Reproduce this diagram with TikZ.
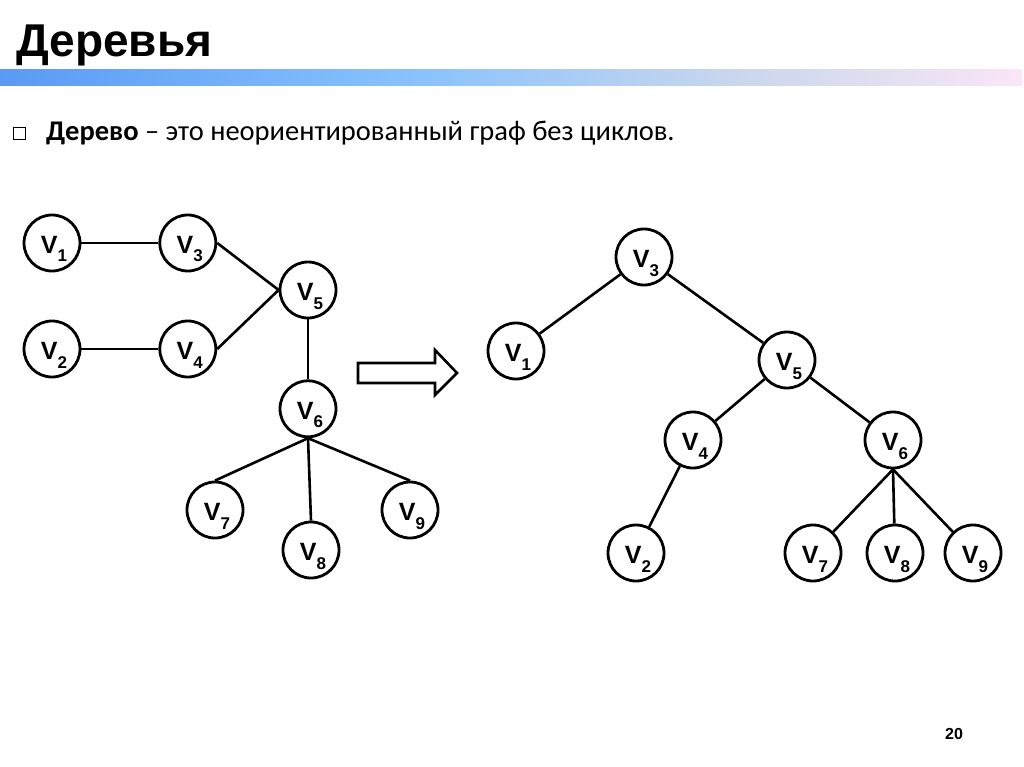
\documentclass[tikz,border=0pt]{standalone}
\usepackage{fontspec}
\setmainfont{Liberation Sans}
\newfontfamily\bodyfont{Carlito}
\usetikzlibrary{positioning}
\definecolor{BarLeft}{HTML}{5A9AF5}
\definecolor{BarMid}{HTML}{88C2FD}
\definecolor{BarGrey}{HTML}{C9D7EC}
\definecolor{BarRight}{HTML}{FAE6F7}
\definecolor{Ink}{HTML}{000000}
\pgfdeclarehorizontalshading{barshade}{100bp}{color(0bp)=(BarLeft); color(25bp)=(BarLeft); color(45bp)=(BarMid); color(61bp)=(BarGrey); color(75bp)=(BarRight); color(100bp)=(BarRight)}
\newcommand{\vname}[1]{\kern4pt V\raisebox{-8.5pt}{\fontsize{17}{17}\selectfont #1}}
\tikzset{
  vert/.style={draw=Ink,circle,line width=2.8pt,minimum size=56pt,inner sep=0pt,text height=21pt,text depth=0pt,font=\fontsize{25}{25}\selectfont\bfseries,text=Ink},
  link/.style={draw=Ink,line width=2.6pt},
  blockarrow/.style={draw=Ink,line width=2.6pt,line join=miter,fill=white}
}
\begin{document}
\begin{tikzpicture}[x=1pt,y=-1pt]
  \fill[white] (0,0) rectangle (1024,767);
  \useasboundingbox (0,0) rectangle (1024,767);
  % title and bar
  \node[anchor=base west,inner sep=0pt,font=\fontsize{46}{46}\selectfont\bfseries] (title) at (16,56.7) {Деревья};
  \shade[shading=barshade] (0,70) rectangle (1022,86);
  % definition line
  \draw[line width=1pt] (13,128) rectangle (25,140);
  \node[anchor=base west,inner sep=0pt,font=\bodyfont\fontsize{28.5}{28.5}\selectfont] (defn) at (46,141)
    {\textbf{Дерево} – это неориентированный граф без циклов.};

  % left graph
  \node[vert] (l1) at (52,243) {\vname{1}};
  \node[vert,right=77pt of l1] (l3) {\vname{3}};
  \node[vert] (l2) at (52,349) {\vname{2}};
  \node[vert,right=77pt of l2] (l4) {\vname{4}};
  \node[vert] (l5) at (308,290) {\vname{5}};
  \node[vert,below=60pt of l5] (l6) {\vname{6}};
  \node[vert] (l7) at (215,510) {\vname{7}};
  \node[vert] (l8) at (311,550) {\vname{8}};
  \node[vert] (l9) at (410,510) {\vname{9}};
  \draw[link] (l1) -- (l3);
  \draw[link] (l2) -- (l4);
  \draw[link] (l3.east) -- (l5.west);
  \draw[link] (l4.east) -- (l5.west);
  \draw[link] (l5) -- (l6);
  \draw[link] (l6.south) -- (l7.north);
  \draw[link] (l6.south) -- (l8.north);
  \draw[link] (l6.south) -- (l9.north);

  % arrow
  \draw[blockarrow] (358,363) -- (435,363) -- (435,350) -- (457,373) -- (435,395) -- (435,383) -- (358,383) -- cycle;

  % right tree
  \node[vert] (r3) at (644,257) {\vname{3}};
  \node[vert] (r1) at (516,351) {\vname{1}};
  \node[vert] (r5) at (787,360) {\vname{5}};
  \node[vert] (r4) at (693,440) {\vname{4}};
  \node[vert] (r6) at (893,440) {\vname{6}};
  \node[vert] (r2) at (636,553) {\vname{2}};
  \node[vert] (r7) at (813,553) {\vname{7}};
  \node[vert] (r8) at (895,553) {\vname{8}};
  \node[vert] (r9) at (973,553) {\vname{9}};
  \draw[link] (r3) -- (r1);
  \draw[link] (r3) -- (r5);
  \draw[link] (r5) -- (r4);
  \draw[link] (r5) -- (r6);
  \draw[link] (r4) -- (r2);
  \draw[link] (r6.south) -- (r7);
  \draw[link] (r6.south) -- (r8);
  \draw[link] (r6.south) -- (r9);

  % page number
  \node[font=\fontsize{16}{16}\selectfont\bfseries] (page) at (954,734) {20};
\end{tikzpicture}
\end{document}
